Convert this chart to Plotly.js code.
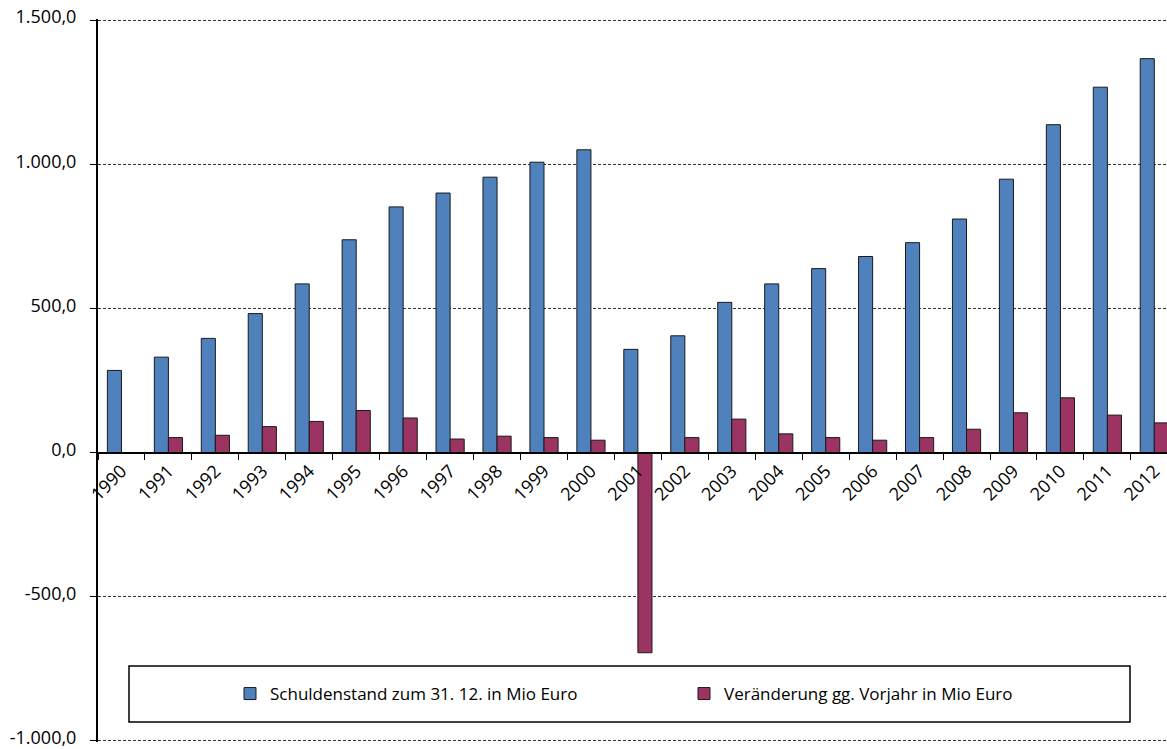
<!DOCTYPE html>
<html>
<head>
<meta charset="utf-8">
<script src="https://cdn.plot.ly/plotly-3.0.1.min.js"></script>
<style>
html,body{margin:0;padding:0;background:#fff;}
#chart{width:1167px;height:749px;}
</style>
</head>
<body>
<div id="chart"></div>
<script>
const years = ["1990","1991","1992","1993","1994","1995","1996","1997","1998","1999","2000","2001","2002","2003","2004","2005","2006","2007","2008","2009","2010","2011","2012"];
const schuldenstand = [285, 331, 396, 482, 585, 738, 852, 900, 955, 1007, 1050, 358, 405, 521, 585, 638, 680, 728, 810, 948, 1137, 1267, 1366];
const veraenderung = [null, 52, 60, 90, 108, 146, 120, 47, 57, 52, 43, -694, 52, 116, 65, 52, 43, 52, 81, 138, 190, 130, 103];
const yTickVals = [-1000, -500, 0, 500, 1000, 1500];
const yTickText = ["-1.000,0", "-500,0", "0,0", "500,0", "1.000,0", "1.500,0"];
const seriesNames = ["Schuldenstand zum 31. 12. in Mio Euro", "Veränderung gg. Vorjahr in Mio Euro"];

const FONT = "Open Sans, Noto Sans, sans-serif";

const traces = [
  {
    type: "bar", x: years, y: schuldenstand, name: seriesNames[0],
    marker: {color: "#4F81BD", line: {color: "#1a1a1a", width: 1}},
    legend: "legend", hoverinfo: "x+y"
  },
  {
    type: "bar", x: years, y: veraenderung, name: seriesNames[1],
    marker: {color: "#9B3363", line: {color: "#1a1a1a", width: 1}},
    legend: "legend2", hoverinfo: "x+y"
  }
];

// plot area: x 98..1167, y 19..742 (range padded by ~1px each side)
const PX0 = 98, PW = 1069, PY0 = 19, PH = 723;
const yRange = [-1003.5, 1503.5];
const py = v => (yRange[1] - v) / (yRange[1] - yRange[0]) * PH + PY0; // value -> pixel
const fy = pix => (PY0 + PH - pix) / PH; // pixel -> paper fraction
const fx = pix => (pix - PX0) / PW;

const layout = {
  width: 1167, height: 749,
  margin: {l: PX0, r: 0, t: PY0, b: 749 - PY0 - PH, pad: 0},
  paper_bgcolor: "#ffffff", plot_bgcolor: "#ffffff",
  separators: ",.",
  font: {family: FONT, size: 18, color: "#000"},
  barmode: "group", bargap: 0.40, bargroupgap: 0,
  xaxis: {
    type: "category",
    range: [-0.5, 22.27],
    anchor: "free", position: fy(py(0)),
    showline: true, linecolor: "#000", linewidth: 2,
    ticks: "outside", tickson: "boundaries", ticklen: 6, tickcolor: "#000", tickwidth: 1,
    tickangle: -45,
    tickfont: {family: FONT, size: 18, color: "#000"},
    showgrid: false, zeroline: false
  },
  yaxis: {
    range: yRange,
    tickvals: yTickVals, ticktext: yTickText,
    showline: true, linecolor: "#000", linewidth: 2,
    ticks: "outside", ticklen: 6, tickcolor: "#000", tickwidth: 1,
    ticklabelstandoff: 10, ticklabelshift: -3, ticklabeloverflow: "allow",
    tickfont: {family: FONT, size: 18, color: "#000"},
    showgrid: true, gridcolor: "#333", gridwidth: 1, griddash: "3px,2px",
    zeroline: false
  },
  legend: {
    x: fx(230), xanchor: "left",
    y: fy(694), yanchor: "middle",
    bgcolor: "rgba(0,0,0,0)", borderwidth: 0,
    font: {family: FONT, size: 17, color: "#000"}
  },
  legend2: {
    x: fx(684), xanchor: "left",
    y: fy(694), yanchor: "middle",
    bgcolor: "rgba(0,0,0,0)", borderwidth: 0,
    font: {family: FONT, size: 17, color: "#000"}
  },
  shapes: [
    {type: "rect", xref: "paper", yref: "paper",
     x0: fx(129), x1: fx(1130),
     y0: fy(722), y1: fy(666),
     line: {color: "#000", width: 1.5}, fillcolor: "#fff", layer: "below"}
  ],
  showlegend: true
};

Plotly.newPlot("chart", traces, layout, {displayModeBar: false, staticPlot: true});
</script>
</body>
</html>
